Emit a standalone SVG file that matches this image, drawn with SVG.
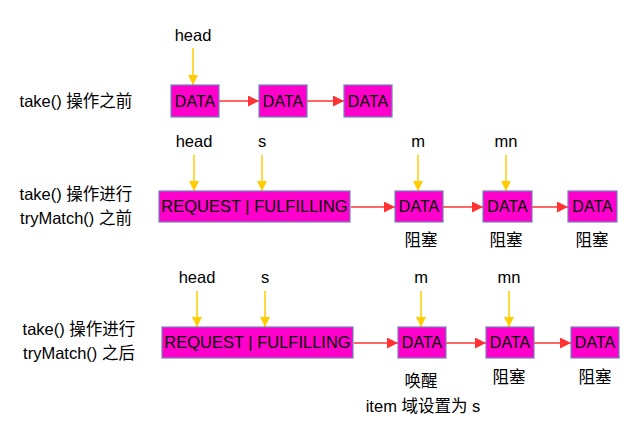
<svg xmlns="http://www.w3.org/2000/svg" width="629" height="427" viewBox="0 0 629 427">
<defs>
<marker id="ay" viewBox="0 0 10 10" refX="10" refY="5" markerWidth="10" markerHeight="11" markerUnits="userSpaceOnUse" orient="auto"><path d="M0,0 L10,5 L0,10 z" fill="#ffcc00"/></marker>
<marker id="ar" viewBox="0 0 10 10" refX="10" refY="5" markerWidth="12" markerHeight="11" markerUnits="userSpaceOnUse" orient="auto"><path d="M0,0 L10,5 L0,10 z" fill="#ff3333"/></marker>
</defs>
<style>
text{font-family:"Liberation Sans","Noto Sans CJK SC",sans-serif;font-size:16.5px;fill:#000}
.box{fill:#ff00cc;stroke:#7284b8;stroke-width:1.2}
.c{text-anchor:middle}
.d{font-size:16px}
.r{font-size:16.5px}
.y{stroke:#ffcc00;stroke-width:1.5;fill:none;marker-end:url(#ay)}
.rd{stroke:#ff3333;stroke-width:1.5;fill:none;marker-end:url(#ar)}
</style>
<rect width="629" height="427" fill="#fff"/>
<g id="labels">
<text x="76" y="107" class="c">take() 操作之前</text>
<text x="76" y="200" class="c">take() 操作进行</text>
<text x="76" y="224" class="c">tryMatch() 之前</text>
<text x="79" y="335" class="c">take() 操作进行</text>
<text x="79" y="359" class="c">tryMatch() 之后</text>
<text x="193" y="41" class="c">head</text>
<text x="194" y="147" class="c">head</text>
<text x="262" y="147" class="c">s</text>
<text x="418" y="147" class="c">m</text>
<text x="506" y="147" class="c">mn</text>
<text x="421" y="246" class="c">阻塞</text>
<text x="506" y="246" class="c">阻塞</text>
<text x="592" y="246" class="c">阻塞</text>
<text x="197" y="283" class="c">head</text>
<text x="265" y="283" class="c">s</text>
<text x="421" y="283" class="c">m</text>
<text x="509" y="283" class="c">mn</text>
<text x="421" y="387" class="c">唤醒</text>
<text x="423" y="412" class="c">item 域设置为 s</text>
<text x="509" y="383" class="c">阻塞</text>
<text x="595" y="383" class="c">阻塞</text>
</g>
<g id="connectors">
<line x1="193" y1="48" x2="193" y2="85" class="y"/>
<line x1="219" y1="101" x2="259" y2="101" class="rd"/>
<line x1="307" y1="101" x2="344" y2="101" class="rd"/>
<line x1="194" y1="155" x2="194" y2="191" class="y"/>
<line x1="262" y1="155" x2="262" y2="191" class="y"/>
<line x1="418" y1="155" x2="418" y2="191" class="y"/>
<line x1="506" y1="155" x2="506" y2="191" class="y"/>
<line x1="351" y1="207" x2="395" y2="207" class="rd"/>
<line x1="443" y1="207" x2="483" y2="207" class="rd"/>
<line x1="532" y1="207" x2="568" y2="207" class="rd"/>
<line x1="197" y1="291" x2="197" y2="327" class="y"/>
<line x1="265" y1="291" x2="265" y2="327" class="y"/>
<line x1="421" y1="291" x2="421" y2="327" class="y"/>
<line x1="509" y1="291" x2="509" y2="327" class="y"/>
<line x1="354" y1="343" x2="398" y2="343" class="rd"/>
<line x1="446" y1="343" x2="486" y2="343" class="rd"/>
<line x1="534" y1="343" x2="571" y2="343" class="rd"/>
</g>
<g id="n1"><rect x="171" y="85" width="48" height="32" class="box"/><text x="195" y="107" class="c d">DATA</text></g>
<g id="n2"><rect x="259" y="85" width="48" height="32" class="box"/><text x="283" y="107" class="c d">DATA</text></g>
<g id="n3"><rect x="344" y="85" width="48" height="32" class="box"/><text x="368" y="107" class="c d">DATA</text></g>
<g id="n4"><rect x="159" y="191" width="191" height="31" class="box"/><text x="254.5" y="212" class="c r">REQUEST | FULFILLING</text></g>
<g id="n5"><rect x="395" y="191" width="48" height="31" class="box"/><text x="419" y="212" class="c d">DATA</text></g>
<g id="n6"><rect x="483" y="191" width="49" height="31" class="box"/><text x="507.5" y="212" class="c d">DATA</text></g>
<g id="n7"><rect x="568" y="191" width="49" height="31" class="box"/><text x="592.5" y="212" class="c d">DATA</text></g>
<g id="n8"><rect x="162" y="327" width="191" height="31" class="box"/><text x="257.5" y="348" class="c r">REQUEST | FULFILLING</text></g>
<g id="n9"><rect x="398" y="327" width="48" height="31" class="box"/><text x="422" y="348" class="c d">DATA</text></g>
<g id="n10"><rect x="486" y="327" width="48" height="31" class="box"/><text x="510" y="348" class="c d">DATA</text></g>
<g id="n11"><rect x="571" y="327" width="48" height="31" class="box"/><text x="595" y="348" class="c d">DATA</text></g>
</svg>
